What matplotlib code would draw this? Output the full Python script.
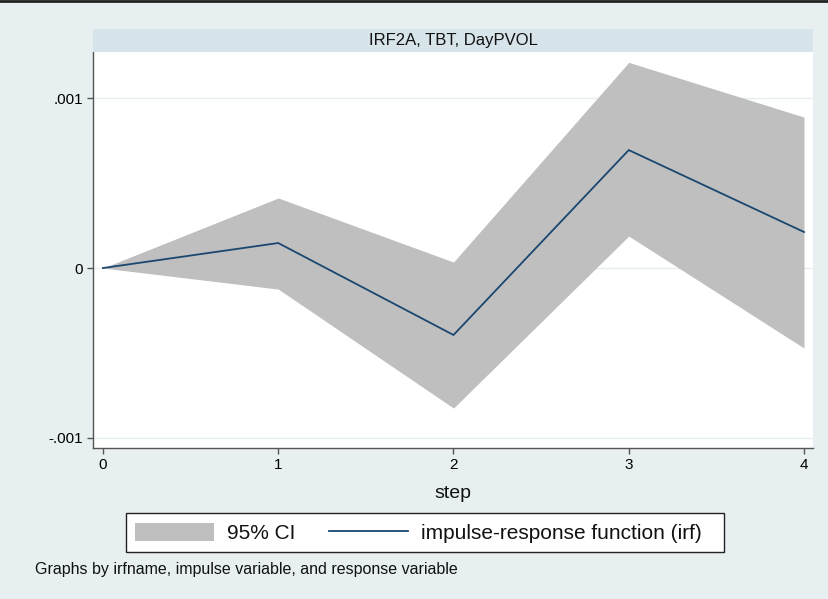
import matplotlib
matplotlib.use("Agg")
import matplotlib.pyplot as plt
from matplotlib.patches import Rectangle, Patch
from matplotlib.lines import Line2D

steps = [0, 1, 2, 3, 4]
irf = [0.0, 0.000147, -0.000394, 0.000694, 0.000212]
ci_upper = [0.0, 0.000412, 0.000035, 0.00121, 0.000888]
ci_lower = [0.0, -0.000124, -0.000824, 0.000188, -0.000471]
yticks = [-0.001, 0.0, 0.001]
ytick_labels = ["-.001", "0", ".001"]
panel_title = "IRF2A, TBT, DayPVOL"
x_title = "step"
legend_labels = ["95% CI", "impulse-response function (irf)"]
note = "Graphs by irfname, impulse variable, and response variable"

W, H = 829, 599
bg = "#E7EFF1"
ci_color = "#BFBFBF"
line_color = "#1A476F"
plt.rcParams['font.family'] = ['Liberation Sans', 'DejaVu Sans']
fig = plt.figure(figsize=(W / 100, H / 100), dpi=100, facecolor=bg)

def fx(px):
    return px / W

def fy(py):
    return 1 - py / H

# top dark border
fig.add_artist(Line2D([0, 1], [fy(1), fy(1)], color="#222222", lw=2, transform=fig.transFigure))

left, right, top, bottom = 93, 813, 52, 448
ax = fig.add_axes([fx(left), fy(bottom), fx(right - left), fy(top) - fy(bottom)])
ax.set_facecolor("white")

# header strip
fig.add_artist(Rectangle((fx(left), fy(top)), fx(right - left), fy(29) - fy(top),
                         transform=fig.transFigure, facecolor="#D7E4EA", edgecolor="none"))
fig.text((fx(left) + fx(right)) / 2, (fy(29) + fy(top)) / 2, panel_title,
         ha="center", va="center", fontsize=12, color="#111111")

ax.fill_between(steps, ci_lower, ci_upper, color=ci_color, lw=0, zorder=2)
ax.plot(steps, irf, color=line_color, lw=1.3, zorder=3)

ax.set_xlim(-0.0571, 4.0514)
ax.set_ylim(-0.001059, 0.001271)
ax.set_xticks(steps)
ax.set_xticklabels([str(s) for s in steps], fontsize=11)
ax.set_yticks(yticks)
ax.set_yticklabels(ytick_labels, fontsize=11)
ax.yaxis.grid(True, color="#E6EEF0", lw=1)
ax.set_axisbelow(True)
for s in ["top", "right"]:
    ax.spines[s].set_visible(False)
for s in ["left", "bottom"]:
    ax.spines[s].set_color("#555555")
    ax.spines[s].set_linewidth(1.0)
ax.tick_params(axis="both", direction="out", length=4.3, color="#555555", width=1, pad=3)

fig.text((fx(left) + fx(right)) / 2, fy(494), x_title, ha="center", va="center",
         fontsize=14, color="#111111")

# legend box
fig.add_artist(Rectangle((fx(126), fy(552)), fx(724 - 126), fy(513) - fy(552),
                         transform=fig.transFigure, facecolor="white",
                         edgecolor="#222222", lw=1.0))
leg_handles = [Patch(facecolor=ci_color, edgecolor="none"),
               Line2D([0], [0], color=line_color, lw=1.3)]
leg = fig.legend(leg_handles, legend_labels, loc="center left",
                 bbox_to_anchor=(fx(135), fy(533)),
                 ncol=2, fontsize=15, frameon=False,
                 handlelength=3.8, handleheight=1.0,
                 columnspacing=1.6, handletextpad=0.62, borderpad=0, borderaxespad=0)
for t in leg.get_texts():
    t.set_color("#111111")

fig.text(fx(35), fy(574), note, ha="left", va="baseline", fontsize=11.5, color="#111111")

fig.savefig("out.png", dpi=100, facecolor=bg)
